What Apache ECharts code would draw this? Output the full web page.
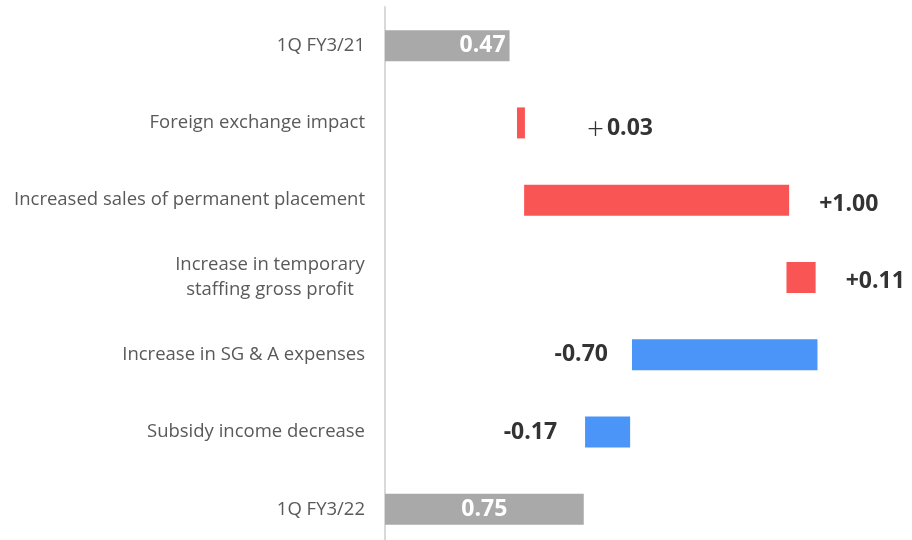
<!DOCTYPE html>
<html>
<head>
<meta charset="utf-8">
<script src="https://cdn.jsdelivr.net/npm/echarts@6/dist/echarts.min.js"></script>
<style>
  html, body { margin: 0; padding: 0; background: #fff; }
  #chart { width: 912px; height: 540px; }
</style>
</head>
<body>
<div id="chart"></div>
<script>
// categories top to bottom
const categories = [
  '1Q FY3/21',
  'Foreign exchange impact',
  'Increased sales of permanent placement',
  'Increase in temporary\nstaffing gross profit',
  'Increase in SG & A expenses',
  'Subsidy income decrease',
  '1Q FY3/22'
];
// where each floating bar starts
const barStart = [0, 0.498, 0.525, 1.515, 0.932, 0.755, 0];
// bar lengths (absolute change)
const barLength = [0.47, 0.03, 1.00, 0.11, 0.70, 0.17, 0.75];
const barKind = ['total', 'up', 'up', 'up', 'down', 'down', 'total'];
const valueLabels = ['0.47', '＋0.03', '+1.00', '+0.11', '-0.70', '-0.17', '0.75'];

const colors = {total: '#a9a9a9', up: '#f95554', down: '#4a95f7'};
const font = '"Open Sans", "Noto Sans", sans-serif';
const valueSize = 23;

function labelFor(i) {
  const kind = barKind[i];
  const base = {
    show: true,
    fontFamily: font,
    fontSize: valueSize,
    fontWeight: 'bold',
    formatter: valueLabels[i]
  };
  if (kind === 'total') {
    return Object.assign(base, {
      position: i === 0 ? 'insideRight' : 'inside',
      color: '#fff',
      distance: 4
    });
  }
  if (kind === 'up') {
    const opts = Object.assign(base, {position: 'right', color: '#333', distance: 30, offset: [0, 4]});
    if (valueLabels[i].startsWith('＋')) {
      // thin full-width plus, as in the source slide
      opts.formatter = '{p|＋}{v|' + valueLabels[i].slice(1) + '}';
      opts.distance = 61;
      opts.offset = [0, 6];
      opts.rich = {
        p: {fontFamily: '"Noto Sans CJK JP"', fontSize: 19, fontWeight: 'normal', color: '#333', padding: [0, 2, 0, 0]},
        v: {fontFamily: font, fontSize: valueSize, fontWeight: 'bold', color: '#333'}
      };
    }
    return opts;
  }
  return Object.assign(base, {position: 'left', color: '#333', distance: i === 4 ? 24 : 28});
}

const chart = echarts.init(document.getElementById('chart'), null, {renderer: 'canvas'});

chart.setOption({
  animation: false,
  grid: {left: 385, top: 7, width: 530, height: 541, outerBoundsMode: 'none'},
  xAxis: {
    type: 'value',
    min: 0,
    max: 2,
    show: false,
    splitLine: {show: false}
  },
  yAxis: {
    type: 'category',
    inverse: true,
    data: categories,
    axisLine: {show: true, lineStyle: {color: '#d9d9d9', width: 2}},
    axisTick: {show: false},
    axisLabel: {
      margin: 20,
      fontFamily: font,
      fontSize: 18.5,
      color: '#595959',
      lineHeight: 25,
      formatter: function (v) {
        if (v.indexOf('\n') >= 0) {
          return v.split('\n').map(s => '{c|' + s + '}').join('\n');
        }
        return v;
      },
      rich: {
        c: {width: 190, align: 'center', fontFamily: font, fontSize: 18.5, color: '#595959', lineHeight: 25}
      }
    }
  },
  series: [
    {
      type: 'bar',
      stack: 'w',
      barWidth: 31,
      itemStyle: {color: 'transparent'},
      emphasis: {disabled: true},
      data: barStart
    },
    {
      type: 'bar',
      stack: 'w',
      barWidth: 31,
      data: barLength.map((v, i) => ({
        value: v,
        itemStyle: {color: colors[barKind[i]]},
        label: labelFor(i)
      }))
    }
  ]
});
</script>
</body>
</html>
